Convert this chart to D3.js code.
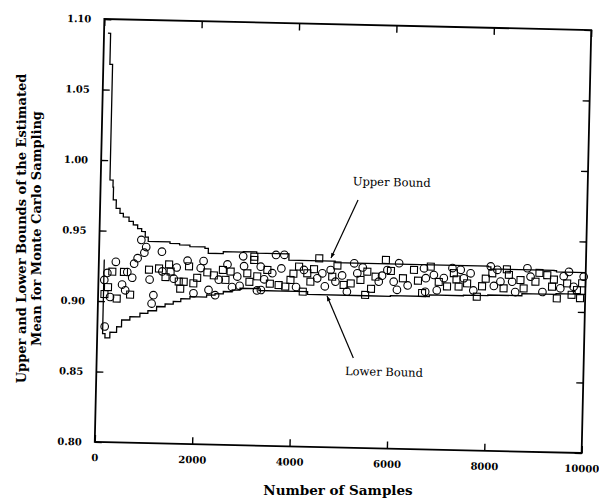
<!DOCTYPE html>
<html>
<head>
<meta charset="utf-8">
<script src="https://cdn.jsdelivr.net/npm/d3@7"></script>
<style>
  html, body { margin: 0; padding: 0; background: #fff; }
  svg { display: block; }
  text { font-family: "DejaVu Serif", "Liberation Serif", serif; fill: #000; }
</style>
</head>
<body>
<div id="chart"></div>
<script>
// axis ticks
const xTicks = [0, 2000, 4000, 6000, 8000, 10000];
const yTicks = [0.80, 0.85, 0.90, 0.95, 1.00, 1.05, 1.10];

// bounds of the running mean, [number of samples, value]
const upperBound = [
    [80, 1.090], [135, 1.068], [190, 0.986], [255, 0.981], [267, 0.972], [330, 0.966], [411, 0.9625],
    [481, 0.960], [600, 0.957], [690, 0.9545], [780, 0.952], [864, 0.950], [940, 0.946],
    [1004, 0.943], [1177, 0.943], [1452, 0.942], [1650, 0.941], [1862, 0.940], [2172, 0.939],
    [2242, 0.9356], [2550, 0.937], [2961, 0.9373], [3236, 0.9364], [3860, 0.9365], [3900, 0.932],
    [4800, 0.932], [4850, 0.931], [6600, 0.931], [8000, 0.9305], [8050, 0.929], [9350, 0.9288],
    [9400, 0.928], [10000, 0.928]
];
const lowerBound = [
    [100, 0.929], [110, 0.877], [160, 0.874], [260, 0.878], [396, 0.882], [495, 0.887],
    [663, 0.8894], [868, 0.892], [1030, 0.894], [1207, 0.897], [1380, 0.899], [1546, 0.9008],
    [1700, 0.903], [1887, 0.9045], [2228, 0.906], [2400, 0.907], [2569, 0.9087], [2750, 0.910],
    [2910, 0.9113], [3253, 0.9116], [3300, 0.910], [3800, 0.910], [4300, 0.908], [5500, 0.908],
    [6000, 0.9085], [6800, 0.9096], [7500, 0.910], [8000, 0.9105], [8700, 0.912], [9400, 0.9125],
    [10000, 0.913]
];

// estimated means, drawn as circles and squares
const circleSamples = [
    [120, 0.915], [150, 0.882], [180, 0.920], [246, 0.903], [349, 0.928], [487, 0.912],
    [554, 0.908], [589, 0.921],
    [692, 0.917], [725, 0.927], [794, 0.931], [862, 0.944], [930, 0.935], [965, 0.939],
    [1050, 0.916], [1102, 0.899], [1135, 0.905], [1290, 0.936], [1308, 0.922], [1546, 0.917],
    [1600, 0.925], [1821, 0.930], [1957, 0.907], [2094, 0.925], [2150, 0.930], [2264, 0.9096],
    [2402, 0.906], [2470, 0.917], [2642, 0.928], [2745, 0.912], [2848, 0.9195], [2900, 0.913],
    [2960, 0.934], [2983, 0.927], [3258, 0.910], [3326, 0.9269], [3340, 0.9104], [3400, 0.918],
    [3566, 0.9225], [3634, 0.9355], [3750, 0.926], [3804, 0.9357], [4060, 0.913], [4215, 0.9253],
    [4490, 0.9196], [4593, 0.9232], [4650, 0.914], [4763, 0.9257], [4866, 0.9175], [5000, 0.922],
    [5106, 0.9106], [5243, 0.9308], [5311, 0.9238], [5420, 0.928], [5755, 0.9182], [5820, 0.9225],
    [5927, 0.9266], [6062, 0.9184], [6132, 0.9127], [6165, 0.9316], [6350, 0.916], [6678, 0.9284],
    [6713, 0.9118], [6720, 0.9214], [6884, 0.9238], [6950, 0.913], [7089, 0.9218], [7262, 0.929],
    [7432, 0.9279], [7500, 0.922], [7637, 0.9256], [7700, 0.9135], [8048, 0.9308], [8120, 0.917],
    [8185, 0.9285], [8253, 0.9202], [8493, 0.9203], [8560, 0.913], [8801, 0.9301], [8869, 0.9242],
    [9120, 0.9135], [9485, 0.9164], [9550, 0.925], [9656, 0.9282], [9758, 0.9177], [9960, 0.925]
];
const squareSamples = [
    [130, 0.905], [200, 0.910],
    [281, 0.921], [384, 0.902], [520, 0.921], [657, 0.905], [1033, 0.923], [1238, 0.924],
    [1376, 0.918], [1443, 0.927], [1478, 0.922], [1649, 0.915], [1683, 0.910], [1751, 0.915],
    [1854, 0.926], [1950, 0.914], [2026, 0.918], [2232, 0.922], [2367, 0.920], [2550, 0.924],
    [2607, 0.917], [2710, 0.923], [3053, 0.922], [3100, 0.916], [3188, 0.9339], [3189, 0.9316],
    [3258, 0.920], [3463, 0.9247], [3520, 0.915], [3701, 0.9142], [3839, 0.9132], [3942, 0.918],
    [4000, 0.9225], [4112, 0.9276], [4200, 0.9099], [4285, 0.923], [4352, 0.9171], [4420, 0.926],
    [4523, 0.9338], [4798, 0.921], [4900, 0.929], [5036, 0.9153], [5180, 0.9165], [5379, 0.9191],
    [5482, 0.9086], [5516, 0.9251], [5600, 0.913], [5687, 0.9217], [5892, 0.9337], [6000, 0.926],
    [6250, 0.921], [6473, 0.9271], [6560, 0.9195], [6650, 0.9108], [6816, 0.9297], [6987, 0.919],
    [7159, 0.9159], [7294, 0.9254], [7350, 0.921], [7397, 0.916], [7570, 0.9184], [7775, 0.9091],
    [7878, 0.9166], [7950, 0.922], [8083, 0.926], [8321, 0.9155], [8380, 0.929], [8424, 0.9251],
    [8664, 0.9216], [8732, 0.9157], [8972, 0.9207], [9050, 0.927], [9212, 0.9255], [9315, 0.9174],
    [9350, 0.9225], [9418, 0.9092], [9623, 0.920], [9720, 0.912], [9828, 0.9154], [9895, 0.9097],
    [9931, 0.9203]
];

const width = 599, height = 499;

const svg = d3.select("#chart").append("svg")
    .attr("width", width)
    .attr("height", height);

svg.append("defs").append("marker")
    .attr("id", "arrow")
    .attr("viewBox", "0 0 10 10")
    .attr("refX", 10).attr("refY", 5)
    .attr("markerWidth", 8).attr("markerHeight", 5)
    .attr("markerUnits", "userSpaceOnUse")
    .attr("orient", "auto")
    .append("path")
    .attr("d", "M0,1 L10,5 L0,9 Z")
    .attr("fill", "#000");

const x = d3.scaleLinear().domain([0, 10000]).range([99.5, 586.5]);
const y = d3.scaleLinear().domain([0.80, 1.10]).range([447.5, 24.5]);

// the scanned original sits slightly tilted on the page
const g = svg.append("g").attr("transform", "rotate(1.3, 343, 236)");

const fmt = d3.format(".2f");

g.append("g")
    .attr("transform", `translate(${x(0)},0)`)
    .call(d3.axisLeft(y).tickValues(yTicks).tickSize(-7).tickPadding(13).tickFormat(fmt))
    .call(a => a.select(".domain").remove())
    .call(a => a.selectAll("text").style("font-size", "10px").style("font-weight", "bold"));

g.append("g")
    .attr("transform", `translate(${x(10000)},0)`)
    .call(d3.axisRight(y).tickValues(yTicks).tickSize(-7).tickFormat(""))
    .call(a => a.select(".domain").remove());

g.append("g")
    .attr("transform", `translate(0,${y(0.80)})`)
    .call(d3.axisBottom(x).tickValues(xTicks).tickSize(-7).tickPadding(12).tickFormat(d3.format("d")))
    .call(a => a.select(".domain").remove())
    .call(a => a.selectAll("text").style("font-size", "10px").style("font-weight", "bold"));

g.append("g")
    .attr("transform", `translate(0,${y(1.10)})`)
    .call(d3.axisTop(x).tickValues(xTicks).tickSize(-7).tickFormat(""))
    .call(a => a.select(".domain").remove());

g.selectAll(".tick line").attr("stroke", "#000").attr("stroke-width", 1.4);

g.append("rect")
    .attr("x", x(0)).attr("y", y(1.10))
    .attr("width", x(10000) - x(0))
    .attr("height", y(0.80) - y(1.10))
    .attr("fill", "none")
    .attr("stroke", "#000")
    .attr("stroke-width", 1.8);

const line = d3.line()
    .x(d => x(d[0]))
    .y(d => y(d[1]))
    .curve(d3.curveStepAfter);

[upperBound, lowerBound].forEach(series => {
    g.append("path")
        .datum(series)
        .attr("d", line)
        .attr("fill", "none")
        .attr("stroke", "#000")
        .attr("stroke-width", 1.3);
});

g.selectAll("circle.sample")
    .data(circleSamples)
    .join("circle")
    .attr("class", "sample")
    .attr("cx", d => x(d[0]))
    .attr("cy", d => y(d[1]))
    .attr("r", 3.8)
    .attr("fill", "none")
    .attr("stroke", "#000")
    .attr("stroke-width", 1.1);

g.selectAll("rect.sample")
    .data(squareSamples)
    .join("rect")
    .attr("class", "sample")
    .attr("x", d => x(d[0]) - 3.5)
    .attr("y", d => y(d[1]) - 3.5)
    .attr("width", 7)
    .attr("height", 7)
    .attr("fill", "none")
    .attr("stroke", "#000")
    .attr("stroke-width", 1.1);

// annotations
const notes = [
    { label: "Upper Bound", at: [5976, 0.989], from: [5292, 0.9758], to: [4764, 0.9342] },
    { label: "Lower Bound", at: [5905, 0.8543], from: [5269, 0.8637], to: [4700, 0.9072] }
];

notes.forEach(n => {
    g.append("text")
        .attr("x", x(n.at[0]))
        .attr("y", y(n.at[1]))
        .attr("dy", "0.35em")
        .attr("text-anchor", "middle")
        .style("font-size", "11.5px")
        .text(n.label);
    g.append("line")
        .attr("x1", x(n.from[0])).attr("y1", y(n.from[1]))
        .attr("x2", x(n.to[0])).attr("y2", y(n.to[1]))
        .attr("stroke", "#000")
        .attr("stroke-width", 1.2)
        .attr("marker-end", "url(#arrow)");
});

// axis titles
svg.append("text")
    .attr("x", 338).attr("y", 495)
    .attr("text-anchor", "middle")
    .style("font-size", "13.5px")
    .style("font-weight", "bold")
    .text("Number of Samples");

const yTitle = ["Upper and Lower Bounds of the Estimated", "Mean for Monte Carlo Sampling"];
yTitle.forEach((t, i) => {
    svg.append("text")
        .attr("transform", `translate(${25.5 + i * 15.5},228.5) rotate(-90)`)
        .attr("text-anchor", "middle")
        .style("font-size", "13px")
        .style("font-weight", "bold")
        .text(t);
});
</script>
</body>
</html>
